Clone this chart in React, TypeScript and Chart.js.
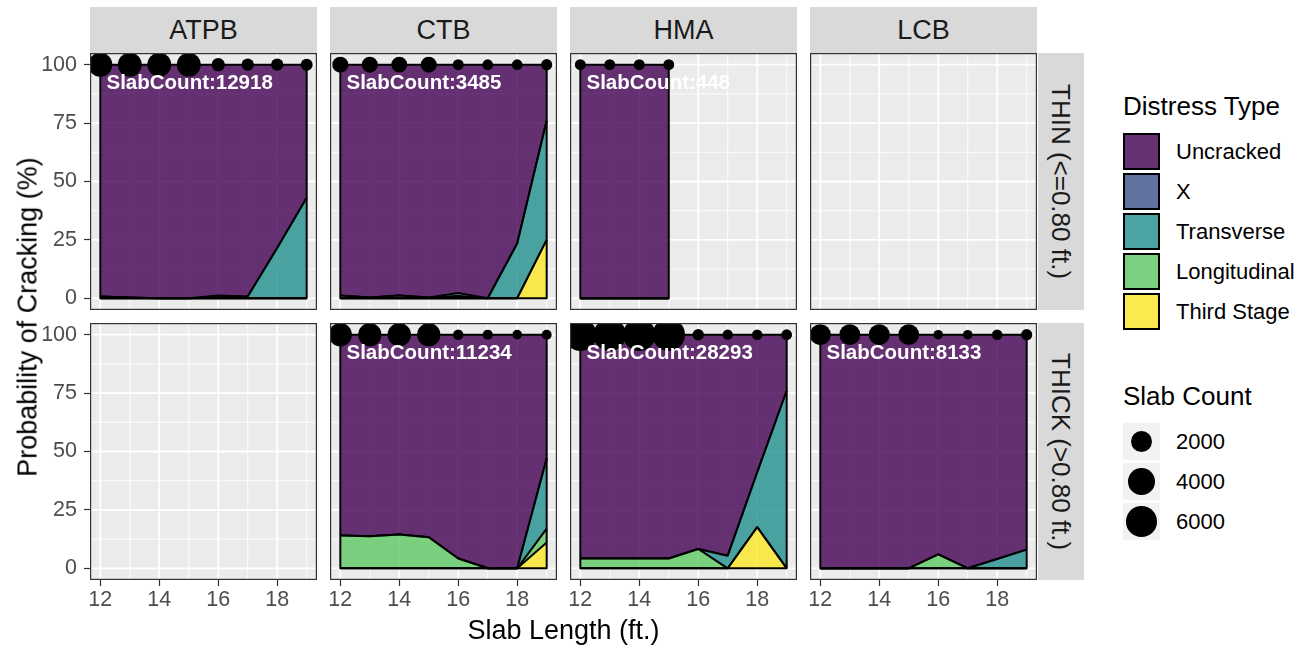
import React, { useEffect, useRef } from 'react';
import { Chart, registerables } from 'chart.js';

Chart.register(...registerables);

const FONT = '"Liberation Sans", Arial, Helvetica, sans-serif';
Chart.defaults.font.family = FONT;

// ---------- axes / categories ----------
const slabLengths = [12, 13, 14, 15, 16, 17, 18, 19];
const hmaThinLengths = [12, 13, 14, 15];
const xTickValues = [12, 14, 16, 18];
const xMinorValues = [13, 15, 17, 19];
const yTickValues = [0, 25, 50, 75, 100];
const yMinorValues = [12.5, 37.5, 62.5, 87.5];
const baseTypes = ['ATPB', 'CTB', 'HMA', 'LCB'];
const thicknessLabels = ['THIN (<=0.80 ft.)', 'THICK (>0.80 ft.)'];
const distressTypes = ['Uncracked', 'X', 'Transverse', 'Longitudinal', 'Third Stage'];
const distressColors = [
  'rgba(68,1,84,0.8)',
  'rgba(59,82,139,0.8)',
  'rgba(33,144,140,0.8)',
  'rgba(93,200,99,0.8)',
  'rgba(253,231,37,0.8)',
];
const sizeLegendValues = [2000, 4000, 6000];

// ---------- ATPB / THIN ----------
const atpbThinUncracked = [99.2, 99.7, 100, 100, 98.8, 99.2, 78.5, 57];
const atpbThinX = [0, 0, 0, 0, 0.7, 0, 0, 0];
const atpbThinTransverse = [0.8, 0.3, 0, 0, 0.5, 0.8, 21.5, 43];
const atpbThinLongitudinal = [0, 0, 0, 0, 0, 0, 0, 0];
const atpbThinThirdStage = [0, 0, 0, 0, 0, 0, 0, 0];
const atpbThinCounts = [3000, 2980, 2960, 2978, 350, 230, 220, 200];
const atpbThinTotal = 12918;

// ---------- CTB / THIN ----------
const ctbThinUncracked = [98.8, 99.7, 98.8, 99.6, 97.7, 100, 76.5, 24];
const ctbThinX = [0, 0, 0, 0, 1.3, 0, 0, 0];
const ctbThinTransverse = [1.2, 0.3, 1.2, 0.4, 1.0, 0, 23.5, 51];
const ctbThinLongitudinal = [0, 0, 0, 0, 0, 0, 0, 0];
const ctbThinThirdStage = [0, 0, 0, 0, 0, 0, 0, 25];
const ctbThinCounts = [780, 760, 740, 760, 120, 100, 95, 130];
const ctbThinTotal = 3485;

// ---------- HMA / THIN ----------
const hmaThinUncracked = [100, 100, 100, 100];
const hmaThinX = [0, 0, 0, 0];
const hmaThinTransverse = [0, 0, 0, 0];
const hmaThinLongitudinal = [0, 0, 0, 0];
const hmaThinThirdStage = [0, 0, 0, 0];
const hmaThinCounts = [112, 112, 112, 112];
const hmaThinTotal = 448;

// ---------- CTB / THICK ----------
const ctbThickUncracked = [86, 86.3, 85.5, 86.7, 95.8, 100, 100, 53];
const ctbThickX = [0, 0, 0, 0, 0, 0, 0, 0];
const ctbThickTransverse = [0, 0, 0, 0, 0, 0, 0, 30];
const ctbThickLongitudinal = [14, 13.7, 14.5, 13.3, 4.2, 0, 0, 6];
const ctbThickThirdStage = [0, 0, 0, 0, 0, 0, 0, 11];
const ctbThickCounts = [2700, 2750, 2800, 2750, 80, 60, 40, 54];
const ctbThickTotal = 11234;

// ---------- HMA / THICK ----------
const hmaThickUncracked = [95.8, 95.8, 95.8, 95.8, 91.7, 94.6, 58.9, 24];
const hmaThickX = [0, 0, 0, 0, 0, 0, 0, 0];
const hmaThickTransverse = [0, 0, 0, 0, 0, 5.4, 23.5, 76];
const hmaThickLongitudinal = [4.2, 4.2, 4.2, 4.2, 8.3, 0, 0, 0];
const hmaThickThirdStage = [0, 0, 0, 0, 0, 0, 17.6, 0];
const hmaThickCounts = [7000, 6950, 6980, 6963, 150, 70, 80, 100];
const hmaThickTotal = 28293;

// ---------- LCB / THICK ----------
const lcbThickUncracked = [100, 100, 100, 100, 94, 100, 96, 92];
const lcbThickX = [0, 0, 0, 0, 0, 0, 0, 0];
const lcbThickTransverse = [0, 0, 0, 0, 0, 0, 4, 8];
const lcbThickLongitudinal = [0, 0, 0, 0, 6, 0, 0, 0];
const lcbThickThirdStage = [0, 0, 0, 0, 0, 0, 0, 0];
const lcbThickCounts = [2000, 1950, 2000, 1900, 30, 30, 90, 133];
const lcbThickTotal = 8133;

// ---------- layout ----------
const COL_X = [90, 330, 570, 810];
const PANEL_W = 227;
const ROW_Y = [53, 323];
const PANEL_H = 257;
const X_AXIS_H = 40;
const Y_AXIS_W = 90;
const STRIP_TOP = 7;
const STRIP_H = 46;
const RSTRIP_X = 1038;
const RSTRIP_W = 46;

// size scale (diameter in px from slab count)
const dotDiameter = (c: number) => 7.8 + 0.296 * Math.sqrt(c);

type PanelSpec = {
  row: number;
  col: number;
  lengths: number[];
  series: Record<string, number[]>;
  counts: number[];
  total: number | null;
};

const panels: PanelSpec[] = [
  {
    row: 0, col: 0, lengths: slabLengths, counts: atpbThinCounts, total: atpbThinTotal,
    series: { Uncracked: atpbThinUncracked, X: atpbThinX, Transverse: atpbThinTransverse, Longitudinal: atpbThinLongitudinal, 'Third Stage': atpbThinThirdStage },
  },
  {
    row: 0, col: 1, lengths: slabLengths, counts: ctbThinCounts, total: ctbThinTotal,
    series: { Uncracked: ctbThinUncracked, X: ctbThinX, Transverse: ctbThinTransverse, Longitudinal: ctbThinLongitudinal, 'Third Stage': ctbThinThirdStage },
  },
  {
    row: 0, col: 2, lengths: hmaThinLengths, counts: hmaThinCounts, total: hmaThinTotal,
    series: { Uncracked: hmaThinUncracked, X: hmaThinX, Transverse: hmaThinTransverse, Longitudinal: hmaThinLongitudinal, 'Third Stage': hmaThinThirdStage },
  },
  { row: 0, col: 3, lengths: [], counts: [], total: null, series: {} },
  { row: 1, col: 0, lengths: [], counts: [], total: null, series: {} },
  {
    row: 1, col: 1, lengths: slabLengths, counts: ctbThickCounts, total: ctbThickTotal,
    series: { Uncracked: ctbThickUncracked, X: ctbThickX, Transverse: ctbThickTransverse, Longitudinal: ctbThickLongitudinal, 'Third Stage': ctbThickThirdStage },
  },
  {
    row: 1, col: 2, lengths: slabLengths, counts: hmaThickCounts, total: hmaThickTotal,
    series: { Uncracked: hmaThickUncracked, X: hmaThickX, Transverse: hmaThickTransverse, Longitudinal: hmaThickLongitudinal, 'Third Stage': hmaThickThirdStage },
  },
  {
    row: 1, col: 3, lengths: slabLengths, counts: lcbThickCounts, total: lcbThickTotal,
    series: { Uncracked: lcbThickUncracked, X: lcbThickX, Transverse: lcbThickTransverse, Longitudinal: lcbThickLongitudinal, 'Third Stage': lcbThickThirdStage },
  },
];

const stackOrder = ['Third Stage', 'Longitudinal', 'Transverse', 'X', 'Uncracked'];
const colorOf = (name: string) => distressColors[distressTypes.indexOf(name)];

function stackTotal(p: PanelSpec, i: number) {
  return stackOrder.reduce((s, n) => s + p.series[n][i], 0);
}

function makePanelPlugin(p: PanelSpec) {
  return {
    id: 'panelDeco',
    beforeDraw(chart: any) {
      const { ctx, chartArea: a, scales } = chart;
      const x = scales.x, y = scales.y;
      ctx.save();
      ctx.fillStyle = '#EBEBEB';
      ctx.fillRect(a.left, a.top, a.right - a.left, a.bottom - a.top);
      ctx.strokeStyle = '#FFFFFF';
      const vline = (v: number) => {
        const px = x.getPixelForValue(v);
        ctx.beginPath(); ctx.moveTo(px, a.top); ctx.lineTo(px, a.bottom); ctx.stroke();
      };
      const hline = (v: number) => {
        const py = y.getPixelForValue(v);
        ctx.beginPath(); ctx.moveTo(a.left, py); ctx.lineTo(a.right, py); ctx.stroke();
      };
      ctx.lineWidth = 0.9;
      xMinorValues.forEach(vline);
      yMinorValues.forEach(hline);
      ctx.lineWidth = 1.8;
      xTickValues.forEach(vline);
      yTickValues.forEach(hline);
      ctx.restore();
    },
    afterDatasetsDraw(chart: any) {
      const { ctx, chartArea: a, scales } = chart;
      const x = scales.x, y = scales.y;
      ctx.save();
      ctx.beginPath();
      ctx.rect(a.left, a.top, a.right - a.left, a.bottom - a.top);
      ctx.clip();
      if (p.lengths.length) {
        const n = p.lengths.length;
        const x0 = x.getPixelForValue(p.lengths[0]);
        const x1 = x.getPixelForValue(p.lengths[n - 1]);
        const yBase = y.getPixelForValue(0);
        ctx.strokeStyle = '#000';
        ctx.lineWidth = 2;
        ctx.lineJoin = 'round';
        ctx.beginPath();
        ctx.moveTo(x0, y.getPixelForValue(stackTotal(p, 0)));
        ctx.lineTo(x0, yBase);
        ctx.lineTo(x1, yBase);
        ctx.lineTo(x1, y.getPixelForValue(stackTotal(p, n - 1)));
        ctx.stroke();
      }
      if (p.total !== null) {
        ctx.fillStyle = '#FFFFFF';
        ctx.font = `bold 20.5px ${FONT}`;
        ctx.textAlign = 'left';
        ctx.textBaseline = 'middle';
        ctx.fillText(`SlabCount:${p.total}`, a.left + 16.5, a.top + 30);
      }
      ctx.restore();
    },
    afterDraw(chart: any) {
      const { ctx, chartArea: a } = chart;
      ctx.save();
      ctx.strokeStyle = '#333333';
      ctx.lineWidth = 1.2;
      ctx.strokeRect(a.left + 0.6, a.top + 0.6, a.right - a.left - 1.2, a.bottom - a.top - 1.2);
      ctx.restore();
    },
  };
}

function Panel({ p }: { p: PanelSpec }) {
  const ref = useRef<HTMLCanvasElement>(null);
  const showY = p.col === 0;
  const showX = p.row === 1;
  const left = showY ? COL_X[p.col] - Y_AXIS_W : COL_X[p.col];
  const width = COL_X[p.col] + PANEL_W - left;
  const top = ROW_Y[p.row];
  const height = PANEL_H + (showX ? X_AXIS_H : 0);

  useEffect(() => {
    const datasets: any[] = [];
    if (p.lengths.length) {
      datasets.push({
        label: 'Slab Count',
        data: p.lengths.map((x, i) => ({ x, y: stackTotal(p, i) })),
        showLine: false,
        stack: 'dots',
        pointRadius: p.counts.map((c) => dotDiameter(c) / 2),
        pointBackgroundColor: '#000',
        pointBorderWidth: 0,
        borderWidth: 0,
      });
      stackOrder.forEach((name, k) => {
        datasets.push({
          label: name,
          data: p.lengths.map((x, i) => ({ x, y: p.series[name][i] })),
          backgroundColor: colorOf(name),
          borderColor: '#000',
          borderWidth: 2,
          pointRadius: 0,
          tension: 0,
          fill: k === 0 ? 'origin' : '-1',
          stack: 'areas',
          borderJoinStyle: 'round',
        });
      });
    }
    const tickFont = { size: 21.5, family: FONT };
    const chart = new Chart(ref.current as HTMLCanvasElement, {
      type: 'line',
      data: { datasets },
      plugins: [makePanelPlugin(p)],
      options: {
        responsive: false,
        animation: false,
        devicePixelRatio: 1,
        events: [],
        layout: { padding: 0, autoPadding: false },
        plugins: { legend: { display: false }, tooltip: { enabled: false } },
        scales: {
          x: {
            type: 'linear',
            min: 11.65,
            max: 19.35,
            display: showX,
            position: 'bottom',
            grid: { display: true, drawOnChartArea: false, drawTicks: true, tickLength: 6, tickColor: '#333333', tickWidth: 1.2 },
            border: { display: false },
            ticks: { font: tickFont, color: '#4D4D4D', padding: 1, maxRotation: 0, autoSkip: false },
            afterBuildTicks: (s: any) => { s.ticks = xTickValues.map((v) => ({ value: v })); },
            afterFit: (s: any) => {
              s.height = showX ? X_AXIS_H : 0;
              s.paddingLeft = 0; s.paddingRight = 0; s.paddingTop = 0; s.paddingBottom = 0;
            },
          },
          y: {
            type: 'linear',
            min: -5,
            max: 105,
            stacked: true,
            display: showY,
            position: 'left',
            grid: { display: true, drawOnChartArea: false, drawTicks: true, tickLength: 6, tickColor: '#333333', tickWidth: 1.2 },
            border: { display: false },
            ticks: { font: tickFont, color: '#4D4D4D', padding: 7, autoSkip: false },
            afterBuildTicks: (s: any) => { s.ticks = yTickValues.map((v) => ({ value: v })); },
            afterFit: (s: any) => {
              s.width = showY ? Y_AXIS_W : 0;
              s.paddingLeft = 0; s.paddingRight = 0; s.paddingTop = 0; s.paddingBottom = 0;
            },
          },
        },
      } as any,
    });
    return () => chart.destroy();
  }, []);

  return (
    <canvas
      ref={ref}
      width={width}
      height={height}
      style={{ position: 'absolute', left, top, width, height }}
    />
  );
}

export default function App() {
  const textBase: React.CSSProperties = { position: 'absolute', fontFamily: FONT, whiteSpace: 'nowrap' };
  return (
    <div style={{ position: 'absolute', left: 0, top: 0, width: 1313, height: 649, background: '#fff', overflow: 'hidden' }}>
      {baseTypes.map((b, c) => (
        <div
          key={b}
          style={{
            ...textBase, left: COL_X[c], top: STRIP_TOP, width: PANEL_W, height: STRIP_H, background: '#D9D9D9',
            display: 'flex', alignItems: 'center', justifyContent: 'center', fontSize: 27, color: '#1A1A1A',
          }}
        >
          {b}
        </div>
      ))}
      {thicknessLabels.map((t, r) => (
        <div
          key={t}
          style={{
            ...textBase, left: RSTRIP_X, top: ROW_Y[r], width: RSTRIP_W, height: PANEL_H, background: '#D9D9D9',
            display: 'flex', alignItems: 'center', justifyContent: 'center', color: '#1A1A1A',
          }}
        >
          <span style={{ writingMode: 'vertical-rl', fontSize: 26, lineHeight: '26px' }}>{t}</span>
        </div>
      ))}
      {panels.map((p) => (
        <Panel key={`${p.row}-${p.col}`} p={p} />
      ))}
      <div
        style={{
          ...textBase, left: 28, top: (ROW_Y[0] + ROW_Y[1] + PANEL_H) / 2, fontSize: 27, color: '#000',
          transform: 'translate(-50%, -50%) rotate(-90deg)', lineHeight: '27px',
        }}
      >
        Probability of Cracking (%)
      </div>
      <div
        style={{
          ...textBase, left: (COL_X[0] + COL_X[3] + PANEL_W) / 2, top: 617, fontSize: 27, color: '#000',
          transform: 'translateX(-50%)', lineHeight: '27px',
        }}
      >
        Slab Length (ft.)
      </div>

      {/* Distress Type legend */}
      <div style={{ ...textBase, left: 1123, top: 93, fontSize: 26, lineHeight: '26px', color: '#000' }}>Distress Type</div>
      {distressTypes.map((d, i) => (
        <React.Fragment key={d}>
          <div style={{ position: 'absolute', left: 1123, top: 133 + i * 40, width: 37, height: 37, background: '#F2F2F2' }}>
            <div
              style={{
                position: 'absolute', left: 0, top: 0, width: 37, height: 37, boxSizing: 'border-box',
                background: distressColors[i], border: '2px solid #000',
              }}
            />
          </div>
          <div
            style={{
              ...textBase, left: 1176, top: 133 + i * 40, height: 37, display: 'flex', alignItems: 'center',
              fontSize: 22, color: '#000',
            }}
          >
            {d}
          </div>
        </React.Fragment>
      ))}

      {/* Slab Count legend */}
      <div style={{ ...textBase, left: 1123, top: 383, fontSize: 26, lineHeight: '26px', color: '#000' }}>Slab Count</div>
      {sizeLegendValues.map((v, i) => {
        const d = dotDiameter(v);
        return (
          <React.Fragment key={v}>
            <div style={{ position: 'absolute', left: 1123, top: 423 + i * 40, width: 37, height: 37, background: '#F2F2F2' }}>
              <div
                style={{
                  position: 'absolute', left: 18.5 - d / 2, top: 18.5 - d / 2, width: d, height: d,
                  borderRadius: '50%', background: '#000',
                }}
              />
            </div>
            <div
              style={{
                ...textBase, left: 1176, top: 423 + i * 40, height: 37, display: 'flex', alignItems: 'center',
                fontSize: 22, color: '#000',
              }}
            >
              {v}
            </div>
          </React.Fragment>
        );
      })}
    </div>
  );
}
